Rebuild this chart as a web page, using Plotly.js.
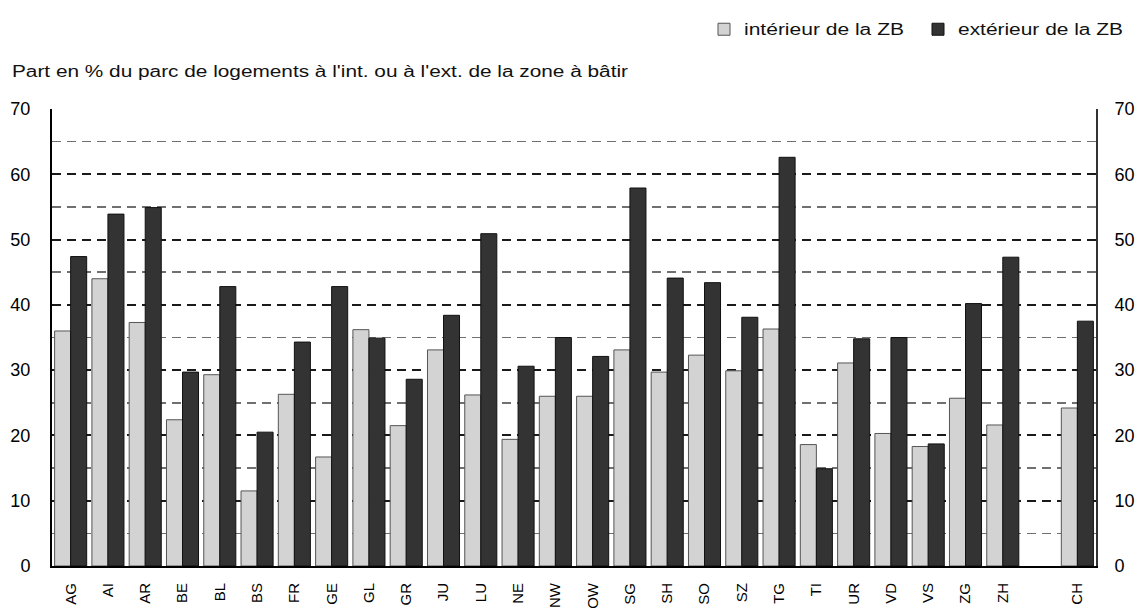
<!DOCTYPE html>
<html>
<head>
<meta charset="utf-8">
<script src="https://cdn.plot.ly/plotly-3.0.1.min.js"></script>
<style>
  html, body { margin: 0; padding: 0; background: #fff; }
  #chart { width: 1142px; height: 615px; }
</style>
</head>
<body>
<div id="chart"></div>
<script>
// ---- data ----
const cantons = ['AG','AI','AR','BE','BL','BS','FR','GE','GL','GR','JU','LU','NE','NW','OW','SG','SH','SO','SZ','TG','TI','UR','VD','VS','ZG','ZH',' ','CH'];
const interieur = [36.0, 44.0, 37.3, 22.4, 29.3, 11.5, 26.3, 16.7, 36.2, 21.5, 33.1, 26.2, 19.4, 26.0, 26.0, 33.1, 29.7, 32.3, 29.9, 36.3, 18.6, 31.1, 20.3, 18.3, 25.7, 21.6, null, 24.2];
const exterieur = [47.4, 53.9, 54.9, 29.7, 42.8, 20.5, 34.3, 42.8, 34.9, 28.6, 38.4, 50.9, 30.6, 35.0, 32.1, 57.9, 44.1, 43.4, 38.1, 62.6, 14.9, 34.8, 35.0, 18.7, 40.2, 47.3, null, 37.5];
const seriesNames = ['intérieur de la ZB', 'extérieur de la ZB'];
const subtitle = "Part en % du parc de logements à l'int. ou à l'ext. de la zone à bâtir";
const yTicks = [0, 10, 20, 30, 40, 50, 60, 70];

const FONT = 'Liberation Sans, Arial, Helvetica, sans-serif';

const traces = [
  {
    type: 'bar', name: seriesNames[0], x: cantons, y: interieur,
    marker: { color: '#d3d3d3', line: { color: '#555555', width: 1 } },
    legend: 'legend', hoverinfo: 'x+y'
  },
  {
    type: 'bar', name: seriesNames[1], x: cantons, y: exterieur,
    marker: { color: '#333333', line: { color: '#111111', width: 1 } },
    legend: 'legend2', hoverinfo: 'x+y'
  },
  {
    type: 'scatter', mode: 'markers', x: [cantons[0]], y: [null], yaxis: 'y2',
    showlegend: false, hoverinfo: 'skip', marker: { opacity: 0, size: 1 }
  }
];

const W = 1142, H = 615, L = 52, R = 46, T = 107, B = 49;
const ph = H - T - B, pw = W - L - R;

const layout = {
  width: W, height: H,
  margin: { l: L, r: R, t: T, b: B, pad: 0 },
  paper_bgcolor: '#ffffff', plot_bgcolor: '#ffffff',
  font: { family: FONT, color: '#000000', size: 16 },
  barmode: 'group', bargap: 0.14, bargroupgap: 0,
  title: {
    text: subtitle, font: { family: FONT, size: 16, color: '#111' },
    xref: 'container', yref: 'container',
    x: 12 / W, xanchor: 'left', y: 1 - 71 / H, yanchor: 'middle'
  },
  xaxis: {
    type: 'category', categoryorder: 'array', categoryarray: cantons,
    range: [-0.5, cantons.length - 0.5], autorange: false,
    tickangle: -90, tickfont: { family: FONT, size: 15, color: '#000' },
    ticks: '', ticklabelstandoff: 9,
    showline: true, linecolor: '#000', linewidth: 2,
    showgrid: false, zeroline: false, automargin: false, fixedrange: true
  },
  yaxis: {
    range: [0, 70], tickvals: yTicks, ticktext: yTicks.map(String),
    tickfont: { family: FONT, size: 18, color: '#000' },
    ticks: '', ticklabelstandoff: 16,
    showline: true, linecolor: '#000', linewidth: 2,
    showgrid: true, gridcolor: '#1a1a1a', gridwidth: 2, griddash: '9px,6px',
    minor: { dtick: 5, tick0: 0, showgrid: true, gridcolor: '#707070', gridwidth: 1.6, griddash: '9px,6px' },
    zeroline: false, automargin: false, fixedrange: true
  },
  yaxis2: {
    overlaying: 'y', side: 'right', anchor: 'x',
    range: [0, 70], tickvals: yTicks, ticktext: yTicks.map(String),
    tickfont: { family: FONT, size: 18, color: '#000' },
    ticks: '', ticklabelstandoff: 13,
    showline: true, linecolor: '#333', linewidth: 2,
    showgrid: false, zeroline: false, automargin: false, fixedrange: true
  },
  legend: {
    orientation: 'h', x: (704 - L) / pw, xanchor: 'left',
    y: 1 + (T - 27) / ph, yanchor: 'middle',
    font: { family: FONT, size: 16, color: '#111' },
    bgcolor: 'rgba(0,0,0,0)', borderwidth: 0
  },
  legend2: {
    orientation: 'h', x: (918 - L) / pw, xanchor: 'left',
    y: 1 + (T - 27) / ph, yanchor: 'middle',
    font: { family: FONT, size: 16, color: '#111' },
    bgcolor: 'rgba(0,0,0,0)', borderwidth: 0
  },
  showlegend: true
};

function stretchTo(el, target) {
  try {
    el.removeAttribute('textLength');
    const len = el.getComputedTextLength();
    if (len > 0 && target > 0) {
      el.setAttribute('textLength', target.toFixed(1));
      el.setAttribute('lengthAdjust', 'spacingAndGlyphs');
    }
  } catch (e) {}
}

function adjustTexts() {
  document.querySelectorAll('text').forEach(function (el) {
    const txt = (el.textContent || '').normalize('NFC').trim();
    if (txt.indexOf('Part en') === 0) stretchTo(el, 616);
    else if (txt.indexOf('ntérieur') >= 0) stretchTo(el, 160);
    else if (txt.indexOf('xtérieur') >= 0) stretchTo(el, 165);
  });
  document.querySelectorAll('[clip-path]').forEach(function (el) {
    const cls = el.getAttribute('class') || '';
    if (cls.indexOf('scrollbox') >= 0 || cls.indexOf('legend') >= 0) el.removeAttribute('clip-path');
  });
}

Plotly.newPlot('chart', traces, layout, { displayModeBar: false, staticPlot: true }).then(function () {
  adjustTexts();
  setTimeout(adjustTexts, 30);
  setTimeout(adjustTexts, 200);
});
</script>
</body>
</html>
